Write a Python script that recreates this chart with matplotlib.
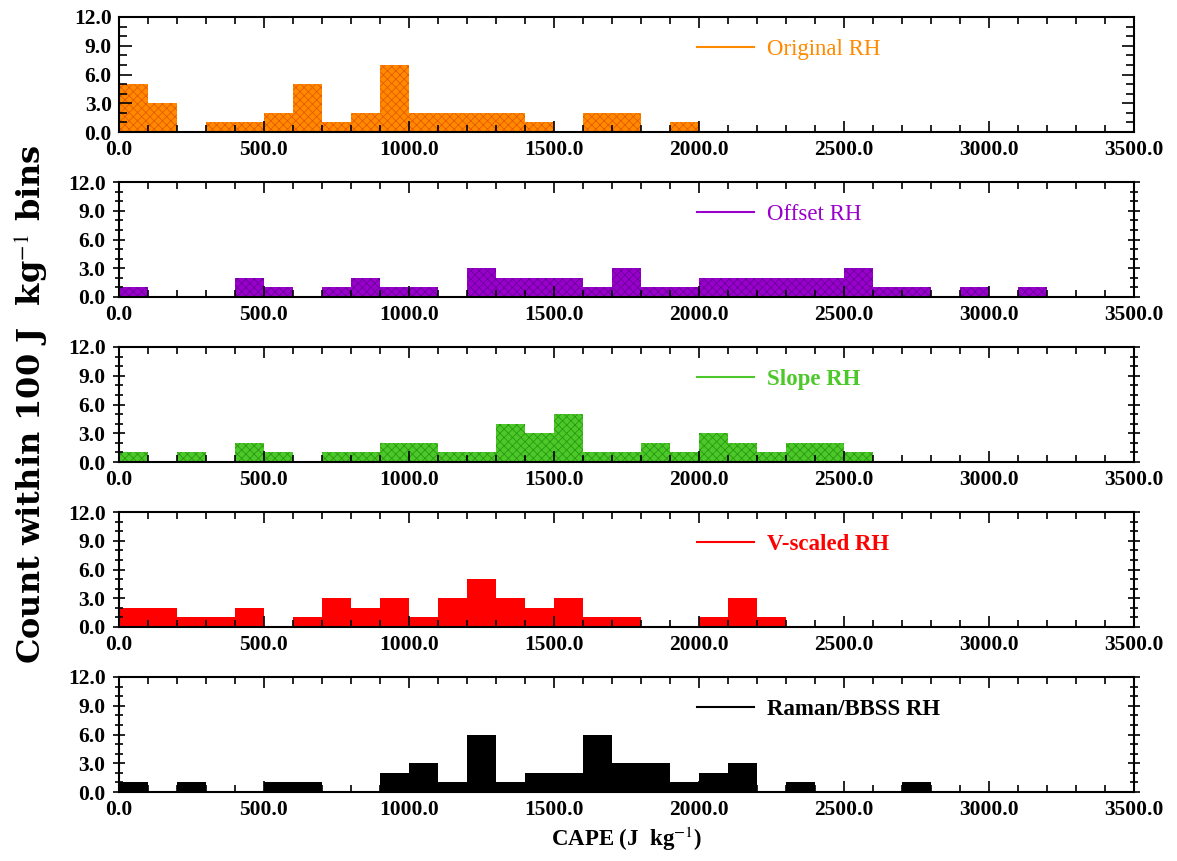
import matplotlib
matplotlib.use("Agg")
import matplotlib.pyplot as plt
from matplotlib.lines import Line2D
from matplotlib.ticker import MultipleLocator, FormatStrFormatter
import numpy as np

# bin left edges (J/kg), 100 J/kg wide
binEdges = list(range(0, 3500, 100))

originalCounts = [5, 3, 0, 1, 1, 2, 5, 1, 2, 7, 2, 2, 2, 2, 1, 0, 2, 2, 0, 1,
                  0, 0, 0, 0, 0, 0, 0, 0, 0, 0, 0, 0, 0, 0, 0]
offsetCounts = [1, 0, 0, 0, 2, 1, 0, 1, 2, 1, 1, 0, 3, 2, 2, 2, 1, 3, 1, 1,
                2, 2, 2, 2, 2, 3, 1, 1, 0, 1, 0, 1, 0, 0, 0]
slopeCounts = [1, 0, 1, 0, 2, 1, 0, 1, 1, 2, 2, 1, 1, 4, 3, 5, 1, 1, 2, 1,
               3, 2, 1, 2, 2, 1, 0, 0, 0, 0, 0, 0, 0, 0, 0]
vscaledCounts = [2, 2, 1, 1, 2, 0, 1, 3, 2, 3, 1, 3, 5, 3, 2, 3, 1, 1, 0, 0,
                 1, 3, 1, 0, 0, 0, 0, 0, 0, 0, 0, 0, 0, 0, 0]
ramanCounts = [1, 0, 1, 0, 0, 1, 1, 0, 0, 2, 3, 1, 6, 1, 2, 2, 6, 3, 3, 1,
               2, 3, 0, 1, 0, 0, 0, 1, 0, 0, 0, 0, 0, 0, 0]

seriesNames = ["Original RH", "Offset RH", "Slope RH", "V-scaled RH", "Raman/BBSS RH"]
seriesCounts = [originalCounts, offsetCounts, slopeCounts, vscaledCounts, ramanCounts]

# fill colour, hatch colour, hatch pattern
styles = [("#FF8A00", "#E85A00", "xxxx"),
          ("#9A00CC", "#6A0099", "xxxx"),
          ("#4CC82A", "#2A9A10", "xxxx"),
          ("#FF0000", "#FF0000", None),
          ("#000000", "#000000", None)]

plt.rcParams['font.family'] = ['Liberation Serif', 'DejaVu Serif']
plt.rcParams['mathtext.fontset'] = 'stix'
plt.rcParams['hatch.linewidth'] = 0.6


def main():
    fig = plt.figure(figsize=(11.77, 8.61), dpi=100)

    figW, figH = 1177.0, 861.0
    left = 118.7 / figW
    width = (1134.0 - 118.7) / figW
    tops = [17, 182, 347, 512, 677]
    height = 115.0 / figH

    for i, (name, counts) in enumerate(zip(seriesNames, seriesCounts)):
        bottom = 1 - (tops[i] + 115.0) / figH
        ax = fig.add_axes([left, bottom, width, height])

        fill, hatchCol, hatch = styles[i]
        if hatch:
            ax.bar(binEdges, counts, width=100, align='edge', color=fill,
                   edgecolor=hatchCol, hatch=hatch, linewidth=0)
        else:
            ax.bar(binEdges, counts, width=100, align='edge', color=fill, linewidth=0)

        ax.set_xlim(0, 3500)
        ax.set_ylim(0, 12)
        ax.xaxis.set_major_locator(MultipleLocator(500))
        ax.xaxis.set_minor_locator(MultipleLocator(100))
        ax.yaxis.set_major_locator(MultipleLocator(3))
        ax.yaxis.set_minor_locator(MultipleLocator(1))
        ax.xaxis.set_major_formatter(FormatStrFormatter('%.1f'))
        ax.yaxis.set_major_formatter(FormatStrFormatter('%.1f'))

        ydir = 'in' if i == 0 else 'inout'
        ax.tick_params(axis='x', which='both', direction='in', top=True, width=1.2)
        ax.tick_params(axis='x', which='major', length=8, pad=6)
        ax.tick_params(axis='x', which='minor', length=5)
        ax.tick_params(axis='y', which='both', direction=ydir, right=True, width=1.2)
        ax.tick_params(axis='y', which='major', length=9, pad=5)
        ax.tick_params(axis='y', which='minor', length=6)
        for lab in ax.get_xticklabels() + ax.get_yticklabels():
            lab.set_fontsize(15.5)
            lab.set_fontweight('bold')
        for sp in ax.spines.values():
            sp.set_linewidth(1.5)

        handle = Line2D([], [], color=fill, lw=1.5)
        ax.legend(handles=[handle], labels=[name], loc='center left',
                  bbox_to_anchor=(0.5696, 0.72), frameon=False, borderpad=0,
                  borderaxespad=0, handlelength=2.5, handletextpad=0.55,
                  labelcolor=[fill], prop={'size': 16.5, 'weight': 'bold' if i >= 2 else 'normal'})

        if i == 4:
            ax.set_xlabel(r"CAPE (J  kg$^{-1}$)", fontsize=16.5, fontweight='bold', labelpad=3)

    fig.text(0.026, 0.53, r"Count within 100 J  kg$^{-1}$ bins", rotation=90,
             fontsize=23, fontweight='bold', family='DejaVu Serif',
             ha='center', va='center')

    fig.savefig("out.png", dpi=100)


main()
